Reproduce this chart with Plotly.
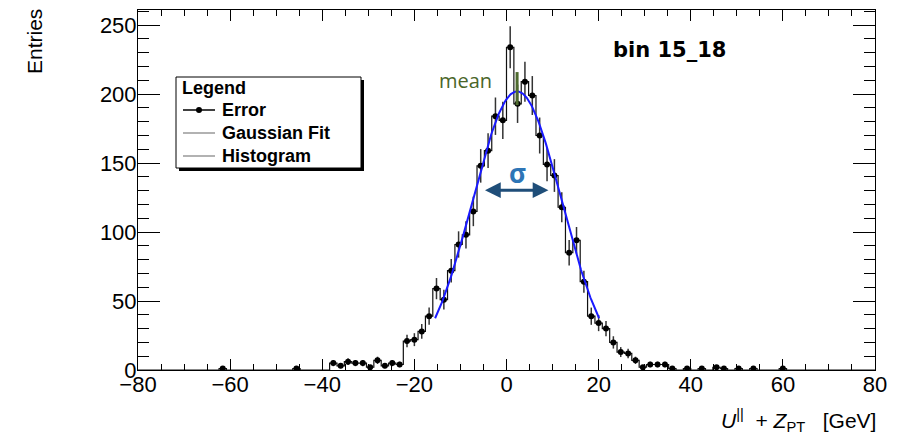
import numpy as np
import plotly.graph_objects as go

# ---------------- data ----------------
BIN_LOW = -80.0
BIN_WIDTH = 1.6
COUNTS = [
    0, 0, 0, 0, 0, 0, 0, 0, 0, 0,
    0, 1, 0, 0, 0, 0, 0, 0, 0, 0,
    0, 1, 0, 0, 0, 0, 5, 3, 6, 5,
    5, 2, 7, 3, 5, 4, 21, 22, 28, 39,
    59, 51, 72, 91, 98, 115, 148, 159, 184, 181,
    234, 193, 209, 199, 170, 149, 141, 118, 85, 94,
    64, 39, 34, 30, 20, 13, 12, 7, 2, 4,
    4, 4, 1, 0, 1, 0, 1, 0, 2, 1,
    0, 1, 0, 1, 0, 0, 0, 1, 0, 0,
    0, 0, 0, 0, 0, 0, 0, 0, 0, 0,
]
FIT_AMPLITUDE = 202.0
FIT_MEAN = 2.3
FIT_SIGMA = 9.7
FIT_RANGE = [-15.5, 20.1]
MEAN_MARK_Y = [192, 216]
SIGMA_ARROW_X = [-5.0, 9.1]
SIGMA_ARROW_Y = 130.4
X_TICKS = [-80, -60, -40, -20, 0, 20, 40, 60, 80]
Y_TICKS = [0, 50, 100, 150, 200, 250]
X_RANGE = [-80, 80]
Y_RANGE = [0, 261]
LEGEND_TITLE = "Legend"
LEGEND_LABELS = ["Error", "Gaussian Fit", "Histogram"]

# ---------------- derived ----------------
counts = np.array(COUNTS, dtype=float)
nb = len(counts)
edges = BIN_LOW + BIN_WIDTH * np.arange(nb + 1)
centers = edges[:-1] + BIN_WIDTH / 2
nz = counts > 0

fit_x = np.linspace(FIT_RANGE[0], FIT_RANGE[1], 300)
fit_y = FIT_AMPLITUDE * np.exp(-0.5 * ((fit_x - FIT_MEAN) / FIT_SIGMA) ** 2)

# figure geometry (px); page body adds an 8 px offset
W, H = 905, 432
OFF = 8
SCR_L, SCR_R, SCR_T, SCR_B = 138, 875, 10, 370   # plot frame on screen
ML, MT = SCR_L - OFF, SCR_T - OFF
MR, MB = W - (SCR_R - OFF), H - (SCR_B - OFF)
PW, PH = SCR_R - SCR_L, SCR_B - SCR_T


def px(xs):
    return (xs - SCR_L) / PW


def py(ys):
    return (SCR_B - ys) / PH


fig = go.Figure()

# histogram outline
fig.add_trace(go.Scatter(
    x=edges, y=np.append(counts, counts[-1]), mode="lines",
    line=dict(color="#111111", width=1.2, shape="hv"),
    showlegend=False, hoverinfo="skip"))

# error bars + markers
fig.add_trace(go.Scatter(
    x=centers[nz], y=counts[nz], mode="markers",
    marker=dict(color="black", size=6),
    error_y=dict(type="data", array=np.sqrt(counts[nz]), color="#333333",
                 thickness=1.5, width=0),
    showlegend=False))

# gaussian fit
fig.add_trace(go.Scatter(
    x=fit_x, y=fit_y, mode="lines",
    line=dict(color="#1a1aff", width=2), showlegend=False))

shapes = []
annotations = []

# mean marker
shapes.append(dict(type="line", xref="x", yref="y",
                   x0=FIT_MEAN, x1=FIT_MEAN, y0=MEAN_MARK_Y[0], y1=MEAN_MARK_Y[1],
                   line=dict(color="#4f6b2f", width=3)))
annotations.append(dict(xref="paper", yref="paper", x=px(437), y=py(81),
                        xanchor="left", yanchor="middle", text="mean", showarrow=False,
                        font=dict(family="Open Sans", size=20, color="#4a6529")))
# sigma arrow
annotations.append(dict(xref="x", yref="y", x=SIGMA_ARROW_X[1], y=SIGMA_ARROW_Y,
                        axref="x", ayref="y", ax=SIGMA_ARROW_X[0], ay=SIGMA_ARROW_Y,
                        text="", showarrow=True, arrowhead=2, startarrowhead=2,
                        arrowside="end+start", arrowwidth=3, arrowsize=1.05,
                        startarrowsize=1.05, arrowcolor="#1f4e79"))
annotations.append(dict(xref="paper", yref="paper", x=px(517), y=py(173),
                        xanchor="center", yanchor="middle", text="<b>σ</b>",
                        showarrow=False,
                        font=dict(family="Open Sans", size=26, color="#2e75b6")))
# bin label
annotations.append(dict(xref="paper", yref="paper", x=px(611), y=py(50),
                        xanchor="left", yanchor="middle", text="<b>bin 15_18</b>",
                        showarrow=False,
                        font=dict(family="DejaVu Sans", size=21, color="black")))
# axis titles
annotations.append(dict(xref="paper", yref="paper", x=px(34.5), y=py(7),
                        xanchor="center", yanchor="top", textangle=-90,
                        text="Entries", showarrow=False,
                        font=dict(family="Liberation Sans", size=21, color="black")))
annotations.append(dict(xref="paper", yref="paper", x=px(878), y=py(404),
                        xanchor="right", yanchor="top",
                        text=("<i>U</i><sup>||</sup>\u00a0\u00a0+\u00a0<i>Z</i>"
                              "<sub>PT</sub>\u00a0\u00a0\u00a0[GeV]"),
                        showarrow=False,
                        font=dict(family="Liberation Sans", size=21, color="black")))

# manual legend box (ROOT style with shadow)
LX0, LX1, LY0, LY1 = 176, 361, 77, 168
shapes.append(dict(type="rect", xref="paper", yref="paper",
                   x0=px(LX0 + 3), x1=px(LX1 + 3), y0=py(LY0 + 3), y1=py(LY1 + 3),
                   fillcolor="black", line=dict(width=0), layer="above"))
shapes.append(dict(type="rect", xref="paper", yref="paper",
                   x0=px(LX0), x1=px(LX1), y0=py(LY0), y1=py(LY1),
                   fillcolor="white", line=dict(color="black", width=1), layer="above"))
annotations.append(dict(xref="paper", yref="paper", x=px(180), y=py(88),
                        xanchor="left", yanchor="middle", text="<b>" + LEGEND_TITLE + "</b>",
                        showarrow=False,
                        font=dict(family="Liberation Sans", size=18, color="black")))
entry_y = [110, 133, 156]
entry_col = ["black", "#999999", "#999999"]
for lab, ey, col in zip(LEGEND_LABELS, entry_y, entry_col):
    shapes.append(dict(type="line", xref="paper", yref="paper",
                       x0=px(183), x1=px(215), y0=py(ey), y1=py(ey),
                       line=dict(color=col, width=1.5), layer="above"))
    annotations.append(dict(xref="paper", yref="paper", x=px(220), y=py(ey),
                            xanchor="left", yanchor="middle", text="<b>" + lab + "</b>",
                            showarrow=False,
                            font=dict(family="Liberation Sans", size=18, color="black")))
shapes.append(dict(type="circle", xref="paper", yref="paper",
                   x0=px(196), x1=px(202), y0=py(entry_y[0] - 3), y1=py(entry_y[0] + 3),
                   fillcolor="black", line=dict(color="black", width=0), layer="above"))

axis_common = dict(showline=True, linecolor="black", linewidth=1, mirror="ticks",
                   ticks="inside", tickcolor="black", tickwidth=1,
                   showgrid=False, zeroline=False,
                   tickfont=dict(family="Liberation Sans", size=22, color="black"))

fig.update_layout(
    width=W, height=H,
    margin=dict(l=ML, r=MR, t=MT, b=MB),
    paper_bgcolor="white", plot_bgcolor="white",
    showlegend=False,
    shapes=shapes, annotations=annotations,
    xaxis=dict(range=X_RANGE, tickvals=X_TICKS, ticklen=11, ticklabelstandoff=-5,
               minor=dict(ticks="inside", ticklen=6, dtick=5, tick0=0,
                          tickcolor="black", showgrid=False),
               **axis_common),
    yaxis=dict(range=Y_RANGE, tickvals=Y_TICKS, ticklen=22, ticklabelstandoff=-4,
               minor=dict(ticks="inside", ticklen=11, dtick=10, tick0=0,
                          tickcolor="black", showgrid=False),
               **axis_common),
)

fig.write_html("out.html")
